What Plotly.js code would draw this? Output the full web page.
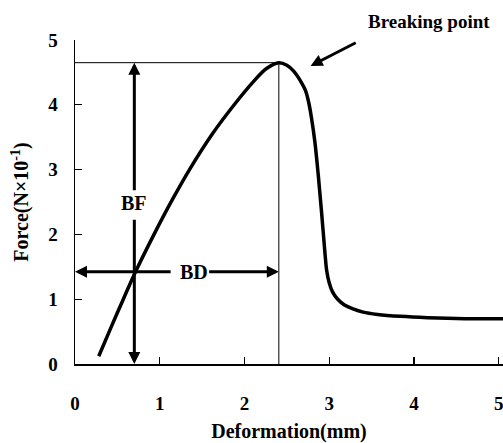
<!DOCTYPE html>
<html>
<head>
<meta charset="utf-8">
<script src="https://cdn.plot.ly/plotly-3.0.1.min.js"></script>
<style>html,body{margin:0;padding:0;background:#fff;}#chart{width:503px;height:443px;}</style>
</head>
<body>
<div id="chart"></div>
<script>
// Deformation (mm) and Force (N x 10^-1)
const deformation = [0.28,0.42,0.57,0.713,0.94,1.15,1.36,1.62,1.89,2.10,2.26,2.405,2.50,2.58,2.66,2.72,2.76,2.79,2.83,2.87,2.91,2.95,2.97,3.00,3.04,3.10,3.18,3.28,3.40,3.57,3.84,4.16,4.60,5.05];
const force       = [0.12,0.55,1.00,1.42,2.02,2.54,3.02,3.55,4.02,4.35,4.56,4.65,4.61,4.52,4.37,4.22,4.02,3.80,3.43,2.92,2.33,1.70,1.44,1.25,1.11,1.00,0.91,0.85,0.80,0.765,0.735,0.715,0.70,0.70];
const xTicks = [0,1,2,3,4,5];
const yTicks = [0,1,2,3,4,5];
// positions of the BF / BD construction
const bfX = 0.70;          // deformation where BF arrow is drawn
const bdY = 1.424;         // force level of BD arrow

let peakIdx = 0;
force.forEach((v,i)=>{ if (v > force[peakIdx]) peakIdx = i; });
const peakX = deformation[peakIdx];
const peakY = force[peakIdx];

const FONT = 'Liberation Serif, Times New Roman, serif';

const traces = [
  {x:[0, peakX], y:[peakY, peakY], mode:'lines', line:{color:'#000', width:1}, hoverinfo:'skip', showlegend:false},
  {x:[peakX, peakX], y:[0, peakY], mode:'lines', line:{color:'#000', width:1}, hoverinfo:'skip', showlegend:false},
  {x:deformation, y:force, mode:'lines', line:{color:'#000', width:3.5, shape:'spline', smoothing:1}, showlegend:false}
];

const arrowCommon = {showarrow:true, arrowhead:2, arrowsize:0.8, arrowwidth:3, arrowcolor:'#000',
  xref:'x', yref:'y', axref:'x', ayref:'y',
  font:{family:FONT, size:20, color:'#000', weight:'bold'}};

const layout = {
  width:503, height:443,
  margin:{l:75, r:0, t:40, b:79},
  paper_bgcolor:'#fff', plot_bgcolor:'#fff',
  font:{family:FONT, color:'#000', weight:'bold'},
  xaxis:{range:[0,5.05], tickvals:xTicks, ticktext:xTicks.map(String), ticks:'inside', ticklen:7, tickwidth:1.2, tickcolor:'#000',
    showline:true, linecolor:'#000', linewidth:1.5, showgrid:false, zeroline:false, ticklabelstandoff:22,
    ticklabeloverflow:'allow',
    tickfont:{family:FONT, size:19, color:'#000', weight:'bold'},
    title:{text:'Deformation(mm)', font:{family:FONT, size:20, color:'#000', weight:'bold'}, standoff:10}},
  yaxis:{range:[0,5], tickvals:yTicks, ticktext:yTicks.map(String), ticks:'inside', ticklen:7, tickwidth:1.2, tickcolor:'#000',
    showline:true, linecolor:'#000', linewidth:1.5, showgrid:false, zeroline:false, ticklabelstandoff:12,
    ticklabeloverflow:'allow',
    tickfont:{family:FONT, size:19, color:'#000', weight:'bold'},
    title:{text:'Force(N×10<sup>-1</sup>)', font:{family:FONT, size:20, color:'#000', weight:'bold'}, standoff:14}},
  annotations:[
    Object.assign({}, arrowCommon, {x:bfX, y:0, ax:bfX, ay:2.25, text:''}),
    Object.assign({}, arrowCommon, {x:bfX, y:peakY, ax:bfX, ay:2.49, text:'BF'}),
    Object.assign({}, arrowCommon, {x:0, y:bdY, ax:1.146, ay:bdY, text:''}),
    Object.assign({}, arrowCommon, {x:peakX, y:bdY, ax:1.40, ay:bdY, text:'BD'}),
    Object.assign({}, arrowCommon, {x:2.78, y:4.60, ax:3.33, ay:4.97, text:''}),
    {x:0.827, y:1.0565, xref:'paper', yref:'paper', xanchor:'center', yanchor:'middle',
     text:'Breaking point', showarrow:false,
     font:{family:FONT, size:19, color:'#000', weight:'bold'}}
  ]
};

Plotly.newPlot('chart', traces, layout, {displayModeBar:false, staticPlot:true});
</script>
</body>
</html>
